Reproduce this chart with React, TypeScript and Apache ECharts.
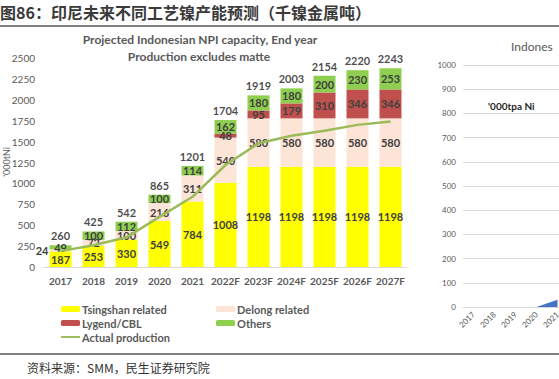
import React, { useEffect, useRef } from "react";
import * as echarts from "echarts";

const categories = ["2017", "2018", "2019", "2020", "2021", "2022F", "2023F", "2024F", "2025F", "2026F", "2027F"];
const tsingshan = [187, 253, 330, 549, 784, 1008, 1198, 1198, 1198, 1198, 1198];
const delong = [24, 72, 100, 216, 311, 540, 580, 580, 580, 580, 580];
const lygend = [0, 0, 0, 0, 0, 48, 95, 179, 310, 346, 346];
const others = [49, 100, 112, 100, 114, 162, 180, 180, 200, 230, 253];
const totals = [260, 425, 542, 865, 1201, 1704, 1919, 2003, 2154, 2220, 2243];
const actualProduction = [190, 260, 355, 600, 840, 1220, 1480, 1570, 1630, 1700, 1740];

const rightCategories = ["2017", "2018", "2019", "2020", "2021", "2022", "2023", "2024", "2025", "2026", "2027"];
const rightValues = [null, null, null, 0, 30];

const EN = "Lato, 'Noto Sans', sans-serif";
const CJK = "'Noto Sans CJK SC', sans-serif";

export default function App() {
  const ref = useRef<HTMLDivElement>(null);
  useEffect(() => {
    const chart = echarts.init(ref.current!, null, { renderer: "svg" });
    const stackTop = categories.map((_, i) => tsingshan[i] + delong[i] + lygend[i] + others[i]);
    const inLabel = {
      show: true,
      position: "inside" as const,
      fontFamily: EN,
      fontWeight: "bold" as const,
      fontSize: 11,
      color: "#404040",
      formatter: (p: any) => (p.value ? String(p.value) : ""),
    };
    const legendText = { fontFamily: EN, fontWeight: "bold" as const, fontSize: 11, color: "#595959", lineHeight: 14, padding: [0, 0, 0, -3] };
    chart.setOption({
      animation: false,
      backgroundColor: "#ffffff",
      graphic: [
        { type: "text", left: 0, top: 4, style: { text: "图86：印尼未来不同工艺镍产能预测（千镍金属吨）", font: `bold 16px ${CJK}`, fill: "#3a3a3a" } },
        { type: "line", shape: { x1: 0, y1: 26, x2: 559, y2: 26 }, style: { stroke: "#555555", lineWidth: 1.5 } },
        { type: "text", x: 200, y: 39, style: { text: "Projected Indonesian NPI capacity, End year", font: `bold 12px ${EN}`, fill: "#595959", align: "center", verticalAlign: "middle" } },
        { type: "text", x: 199, y: 56, style: { text: "Production excludes matte", font: `bold 12px ${EN}`, fill: "#595959", align: "center", verticalAlign: "middle" } },
        { type: "text", x: 6, y: 162, rotation: Math.PI / 2, style: { text: "'000tNi", font: `9px ${EN}`, fill: "#595959", align: "center", verticalAlign: "middle" } },
        { type: "text", x: 511, y: 46, style: { text: "Indones", font: `12px ${EN}`, fill: "#595959", verticalAlign: "middle" } },
        { type: "text", x: 488, y: 106, style: { text: "'000tpa Ni", font: `bold 10px ${EN}`, fill: "#262626", verticalAlign: "middle" } },
        { type: "line", shape: { x1: 0, y1: 354, x2: 559, y2: 354 }, style: { stroke: "#555555", lineWidth: 1.5 } },
        { type: "text", x: 27, y: 367, style: { text: "资料来源：SMM，民生证券研究院", font: `12px ${CJK}`, fill: "#333333", verticalAlign: "middle" } },
      ],
      legend: [
        {
          orient: "vertical", left: 61, top: 302, itemWidth: 19, itemHeight: 6, itemGap: 0, padding: 0,
          textStyle: legendText,
          data: ["Tsingshan related", "Lygend/CBL", { name: "Actual production", icon: "path://M0,0h20v2H0z" }],
        },
        {
          orient: "vertical", left: 216, top: 302, itemWidth: 19, itemHeight: 6, itemGap: 0, padding: 0,
          textStyle: legendText,
          data: ["Delong related", "Others"],
        },
      ],
      grid: [
        { left: 44, right: 152, top: 58, bottom: 112, outerBoundsMode: "none", containLabel: false },
        { left: 463, width: 231, top: 65, bottom: 72, outerBoundsMode: "none", containLabel: false },
      ],
      xAxis: [
        {
          type: "category", gridIndex: 0, data: categories,
          axisLine: { lineStyle: { color: "#D9D9D9" } }, axisTick: { show: false },
          axisLabel: { fontFamily: EN, fontWeight: "bold", fontSize: 10, color: "#595959", margin: 9, interval: 0 },
        },
        {
          type: "category", gridIndex: 1, data: rightCategories,
          axisLine: { lineStyle: { color: "#D9D9D9" } }, axisTick: { show: false },
          axisLabel: { fontFamily: EN, fontSize: 8, color: "#595959", rotate: 45, margin: 6, interval: 0 },
        },
      ],
      yAxis: [
        {
          type: "value", gridIndex: 0, min: 0, max: 2500, interval: 250,
          splitLine: { show: false }, axisLine: { show: false }, axisTick: { show: false },
          axisLabel: { fontFamily: EN, fontSize: 10, color: "#595959", margin: 9, formatter: (v: number) => String(v) },
        },
        {
          type: "value", gridIndex: 1, min: 0, max: 1000, interval: 100,
          splitLine: { lineStyle: { color: "#D9D9D9" } }, axisLine: { show: false }, axisTick: { show: false },
          axisLabel: { fontFamily: EN, fontSize: 8, color: "#595959", margin: 7, formatter: (v: number) => String(v) },
        },
      ],
      series: [
        {
          name: "Tsingshan related", type: "bar", stack: "a", barWidth: 22, data: tsingshan,
          itemStyle: { color: "#FFFF00" }, label: inLabel,
        },
        {
          name: "Delong related", type: "bar", stack: "a", barWidth: 22,
          data: delong.map((v, i) => (i === 0 ? { value: v, label: { position: "left", distance: 1 } } : v)),
          itemStyle: { color: "#FCE4D6" }, label: inLabel,
        },
        {
          name: "Lygend/CBL", type: "bar", stack: "a", barWidth: 22, data: lygend,
          itemStyle: { color: "#C0504D" }, label: inLabel,
        },
        {
          name: "Others", type: "bar", stack: "a", barWidth: 22, data: others,
          itemStyle: { color: "#8FCF50" }, label: inLabel,
        },
        {
          name: "Total", type: "scatter", data: stackTop, symbolSize: 0, silent: true,
          label: {
            show: true, position: "top", distance: 4, fontFamily: EN, fontWeight: "bold", fontSize: 11, color: "#1a1a1a",
            formatter: (p: any) => String(totals[p.dataIndex]),
          },
        },
        {
          name: "Actual production", type: "line", data: actualProduction, symbol: "none",
          lineStyle: { color: "#9BBB59", width: 2.5 }, itemStyle: { color: "#9BBB59" },
        },
        {
          name: "right", type: "line", xAxisIndex: 1, yAxisIndex: 1, data: rightValues, symbol: "none",
          lineStyle: { width: 0 }, areaStyle: { color: "#4472C4", opacity: 1 }, itemStyle: { color: "#4472C4" },
        },
      ],
    });
    return () => chart.dispose();
  }, []);
  return <div ref={ref} style={{ position: "fixed", left: 0, top: 0, width: 559, height: 379, background: "#fff" }} />;
}
